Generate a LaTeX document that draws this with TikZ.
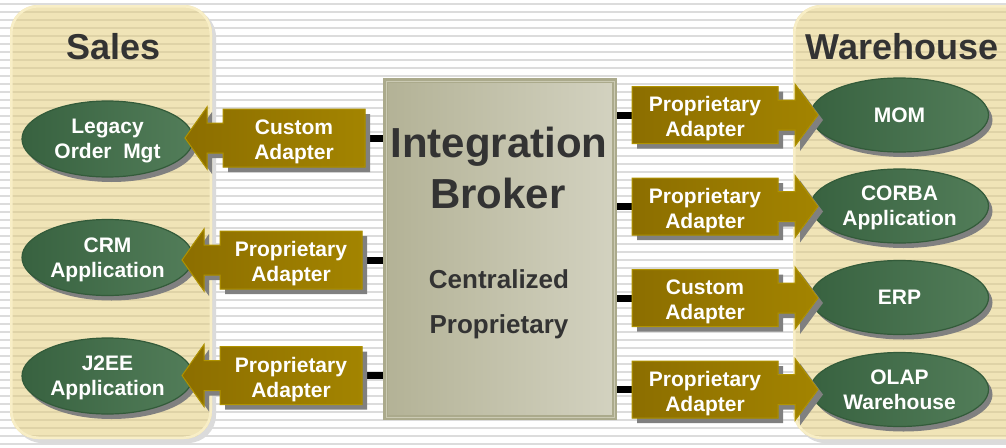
\documentclass[tikz,border=0pt]{standalone}
\usepackage{fontspec}
\setmainfont{Liberation Sans}
\usetikzlibrary{calc,shapes.geometric,shadows}
\definecolor{bgline}{HTML}{DCDCDC}
\definecolor{panelfill}{HTML}{F0E4B7}
\definecolor{panelline}{HTML}{DFD3A7}
\definecolor{panelglow}{HTML}{F8EEC6}
\definecolor{goldL}{HTML}{8C6E00}
\definecolor{goldR}{HTML}{A38400}
\definecolor{goldB}{HTML}{B09300}
\definecolor{shgray}{HTML}{808080}
\definecolor{grnL}{HTML}{386240}
\definecolor{grnR}{HTML}{527D59}
\definecolor{grnB}{HTML}{335B3A}
\definecolor{brkL}{HTML}{B3B296}
\definecolor{brkR}{HTML}{D3D2C0}
\definecolor{brkB}{HTML}{ABAA8C}
\definecolor{brkI}{HTML}{CBCAB3}
\definecolor{txtdark}{HTML}{333333}
\newcommand\LeftCallout[1]{(#1.north west) -- (#1.north east) -- (#1.south east) -- (#1.south west)
 -- ($(#1.west)+(0,15)$) -- ($(#1.west)+(-16,15)$) -- ($(#1.west)+(-16,31)$)
 -- ($(#1.west)+(-38,0)$)
 -- ($(#1.west)+(-16,-31)$) -- ($(#1.west)+(-16,-15)$) -- ($(#1.west)+(0,-15)$) -- cycle}
\newcommand\RightCallout[1]{(#1.north west) -- (#1.north east)
 -- ($(#1.east)+(0,-15)$) -- ($(#1.east)+(17,-15)$) -- ($(#1.east)+(17,-31)$)
 -- ($(#1.east)+(40,0)$)
 -- ($(#1.east)+(17,31)$) -- ($(#1.east)+(17,15)$) -- ($(#1.east)+(0,15)$)
 -- (#1.south east) -- (#1.south west) -- cycle}
\begin{document}
\begin{tikzpicture}[x=1pt,y=-1pt,
  title/.style={font=\fontsize{36}{40}\selectfont\bfseries, text=txtdark, inner sep=0pt},
  brkbig/.style={font=\fontsize{42}{46}\selectfont\bfseries, text=txtdark, inner sep=0pt},
  brksmall/.style={font=\fontsize{26}{30}\selectfont\bfseries, text=txtdark, inner sep=0pt},
  broker/.style={rectangle, draw=brkB, line width=5pt, left color=brkL, right color=brkR,
     minimum width=229pt, minimum height=337pt, inner sep=0pt},
  ell/.style={ellipse, inner sep=0pt, draw=grnB, line width=1.2pt, left color=grnL, right color=grnR,
     text=white, font=\fontsize{21}{25}\selectfont\bfseries, align=center, text depth=0pt,
     drop shadow={shadow xshift=4pt, shadow yshift=-5pt, fill=shgray, opacity=1}},
  adbox/.style={rectangle, inner sep=0pt, outer sep=0pt},
  adtxt/.style={inner sep=0pt, text=white, font=\fontsize{21}{25}\selectfont\bfseries, align=center, text depth=0pt, yshift=-1.5pt},
  adfill/.style={left color=goldL, right color=goldR, draw=goldB, line width=1pt, line join=miter},
  adshadow/.style={fill=shgray, transform canvas={shift={(5,5)}}},
  conn/.style={line width=7pt, black}
]
\useasboundingbox (0,0) rectangle (1006,447);
\fill[white] (0,0) rectangle (1006,447);
\foreach \k in {0,...,55} \fill[bgline] (0,{3+8*\k}) rectangle (1006,{5+8*\k});

% Sales panel
\fill[black!14, rounded corners=28pt] (14,9) rectangle (216,443);
\fill[panelfill, rounded corners=28pt] (10,5) rectangle (212,439);
\begin{scope}
  \clip[rounded corners=28pt] (10,5) rectangle (212,439);
  \foreach \k in {0,...,55} \fill[panelline] (0,{3+8*\k}) rectangle (1006,{5+8*\k});
\end{scope}
\draw[panelglow, line width=2.5pt, rounded corners=27pt] (11.25,6.25) rectangle (210.75,437.75);

% Warehouse panel
\fill[black!14, rounded corners=28pt] (797,9) rectangle (1040,443);
\fill[panelfill, rounded corners=28pt] (793,5) rectangle (1036,439);
\begin{scope}
  \clip[rounded corners=28pt] (793,5) rectangle (1036,439);
  \foreach \k in {0,...,55} \fill[panelline] (0,{3+8*\k}) rectangle (1006,{5+8*\k});
\end{scope}
\draw[panelglow, line width=2.5pt, rounded corners=27pt] (794.25,6.25) rectangle (1034.75,437.75);

\node[title, anchor=base] (ts) at (113.5,59) {Sales};
\node[title, anchor=base] (tw) at (902,59) {Warehouse};

% Broker
\node[broker] (br) at (500,249) {};
\draw[brkI, line width=1pt] ($(br.north west)+(3,3)$) rectangle ($(br.south east)+(-3,-3)$);
\node[brkbig, anchor=base] (bt1) at (499,157) {Integration};
\node[brkbig, anchor=base] (bt2) at (498,208) {Broker};
\node[brksmall, anchor=base] (bt3) at (499,288) {Centralized};
\node[brksmall, anchor=base] (bt4) at (499,333) {Proprietary};

% Ellipses
\node[ell, minimum width=171pt, minimum height=76pt] (e1) at (107.5,139) {Legacy\\Order~~Mgt};
\node[ell, minimum width=171pt, minimum height=76pt] (e2) at (107.5,257.5) {CRM\\Application};
\node[ell, minimum width=171pt, minimum height=76pt] (e3) at (107.5,376) {J2EE\\Application};
\node[ell, minimum width=178pt, minimum height=74pt] (e4) at (899.5,115) {MOM};
\node[ell, minimum width=178pt, minimum height=74pt] (e5) at (899.5,206) {CORBA\\Application};
\node[ell, minimum width=178pt, minimum height=74pt] (e6) at (899.5,297.5) {ERP};
\node[ell, minimum width=178pt, minimum height=74pt] (e7) at (899.5,389.5) {OLAP\\Warehouse};

% Adapter bodies (geometry)
\node[adbox, minimum width=142pt, minimum height=58pt] (a1) at (294,138) {};
\node[adbox, minimum width=142pt, minimum height=58pt] (a2) at (291,260) {};
\node[adbox, minimum width=142pt, minimum height=58pt] (a3) at (291,375.5) {};
\node[adbox, minimum width=146pt, minimum height=57pt] (a4) at (705,115) {};
\node[adbox, minimum width=146pt, minimum height=57pt] (a5) at (705,206.5) {};
\node[adbox, minimum width=146pt, minimum height=57pt] (a6) at (705,298) {};
\node[adbox, minimum width=146pt, minimum height=57pt] (a7) at (705,389.5) {};

% Connectors to broker
\foreach \a in {a1,a2,a3} \draw[conn] (\a.east) -- (\a.east -| br.west);
\foreach \a in {a4,a5,a6,a7} \draw[conn] (\a.west -| br.east) -- (\a.west);

% Callout shapes
\foreach \a in {a1,a2,a3} {
  \fill[adshadow] \LeftCallout{\a};
  \filldraw[adfill] \LeftCallout{\a};
}
\foreach \a in {a4,a5,a6,a7} {
  \fill[adshadow] \RightCallout{\a};
  \filldraw[adfill] \RightCallout{\a};
}

\node[adtxt] (t1) at (a1) {Custom\\Adapter};
\node[adtxt] (t2) at (a2) {Proprietary\\Adapter};
\node[adtxt] (t3) at (a3) {Proprietary\\Adapter};
\node[adtxt] (t4) at (a4) {Proprietary\\Adapter};
\node[adtxt] (t5) at (a5) {Proprietary\\Adapter};
\node[adtxt] (t6) at (a6) {Custom\\Adapter};
\node[adtxt] (t7) at (a7) {Proprietary\\Adapter};
\end{tikzpicture}
\end{document}
